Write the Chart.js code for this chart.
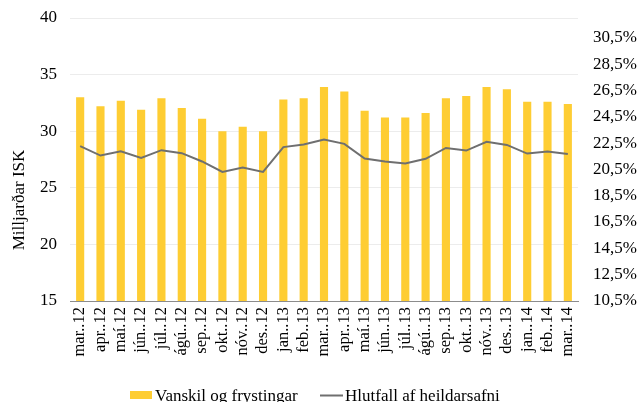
<!DOCTYPE html>
<html>
<head>
<meta charset="utf-8">
<script src="https://cdn.jsdelivr.net/npm/chart.js@4"></script>
<style>
  body { margin: 0; background: #fff; }
</style>
</head>
<body>
<canvas id="vanskilChart" width="637" height="402"></canvas>
<script>
const months = ['mar..12', 'apr..12', 'maí.12', 'jún..12', 'júl..12', 'ágú..12', 'sep..12', 'okt..12', 'nóv..12', 'des..12',
  'jan..13', 'feb..13', 'mar..13', 'apr..13', 'maí.13', 'jún..13', 'júl..13', 'ágú..13', 'sep..13', 'okt..13', 'nóv..13', 'des..13',
  'jan..14', 'feb..14', 'mar..14'];
const vanskil = [33.0, 32.2, 32.7, 31.9, 32.9, 32.05, 31.1, 30.0, 30.4, 30.0,
  32.8, 32.9, 33.9, 33.5, 31.8, 31.2, 31.2, 31.6, 32.9, 33.1, 33.9, 33.7, 32.6, 32.6, 32.4];
const hlutfall = [22.26, 21.55, 21.88, 21.37, 21.96, 21.73, 21.1, 20.31, 20.64, 20.31,
  22.19, 22.39, 22.77, 22.44, 21.32, 21.1, 20.94, 21.3, 22.13, 21.93, 22.59, 22.36, 21.7, 21.85, 21.66];
const leftTicks = [15, 20, 25, 30, 35, 40];
const rightTicks = [10.5, 12.5, 14.5, 16.5, 18.5, 20.5, 22.5, 24.5, 26.5, 28.5, 30.5];

const serif = 'Liberation Serif';

// axis title and legend drawn by hand so they sit where the original has them
const extras = {
  id: 'extras',
  afterDraw(chart) {
    const c = chart.ctx;
    c.save();
    c.fillStyle = '#000';
    c.font = '17px "' + serif + '"';
    c.translate(20, 200);
    c.rotate(-Math.PI / 2);
    c.textAlign = 'center';
    c.textBaseline = 'middle';
    c.fillText('Milljarðar ISK', 0, 0);
    c.restore();

    c.save();
    c.font = '17px "' + serif + '"';
    c.textBaseline = 'alphabetic';
    const bars = chart.data.datasets[1];
    const line = chart.data.datasets[0];
    c.fillStyle = bars.backgroundColor;
    c.fillRect(130, 391, 22, 8);
    c.fillStyle = '#000';
    c.fillText(bars.label, 155, 401);
    c.strokeStyle = line.borderColor;
    c.lineWidth = 2;
    c.beginPath();
    c.moveTo(320, 395.5);
    c.lineTo(343, 395.5);
    c.stroke();
    c.fillText(line.label, 345, 401);
    c.restore();
  }
};

// keep tick label overhang from pushing the plot area around
const noPad = s => { s.paddingTop = 0; s.paddingBottom = 0; s.paddingLeft = 0; s.paddingRight = 0; };

const ctx = document.getElementById('vanskilChart').getContext('2d');
new Chart(ctx, {
  type: 'bar',
  data: {
    labels: months,
    datasets: [{
      type: 'line',
      label: 'Hlutfall af heildarsafni',
      data: hlutfall,
      yAxisID: 'y1',
      borderColor: '#6f6f6f',
      borderWidth: 2,
      pointRadius: 0,
      tension: 0,
      order: 0
    }, {
      label: 'Vanskil og frystingar',
      data: vanskil,
      yAxisID: 'y',
      backgroundColor: '#fecd33',
      barPercentage: 0.4,
      categoryPercentage: 1,
      order: 1
    }]
  },
  options: {
    responsive: false,
    animation: false,
    layout: { padding: { top: 18, left: 0, right: 0, bottom: 0 } },
    plugins: {
      legend: { display: false },
      tooltip: { enabled: false }
    },
    scales: {
      x: {
        grid: { display: false, drawTicks: false },
        border: { color: '#8c8c8c', width: 1 },
        ticks: {
          color: '#000',
          font: { family: serif, size: 16.5 },
          minRotation: 90,
          maxRotation: 90,
          autoSkip: false,
          padding: 6
        },
        afterFit: s => { s.height = 101; noPad(s); }
      },
      y: {
        position: 'left',
        min: 15,
        max: 40,
        afterBuildTicks: s => { s.ticks = leftTicks.map(v => ({ value: v })); },
        grid: { color: '#ececec', drawTicks: false },
        border: { display: false },
        ticks: {
          color: '#000',
          font: { family: serif, size: 17 },
          padding: 13
        },
        afterFit: s => { s.width = 70; noPad(s); }
      },
      y1: {
        position: 'right',
        min: 10.5,
        max: 32.0,
        afterBuildTicks: s => { s.ticks = rightTicks.map(v => ({ value: v })); },
        grid: { display: false, drawTicks: false },
        border: { display: false },
        ticks: {
          color: '#000',
          font: { family: serif, size: 17 },
          padding: 15,
          callback: v => v.toFixed(1).replace('.', ',') + '%'
        },
        afterFit: s => { s.width = 59; noPad(s); }
      }
    }
  },
  plugins: [extras]
});
</script>
</body>
</html>
